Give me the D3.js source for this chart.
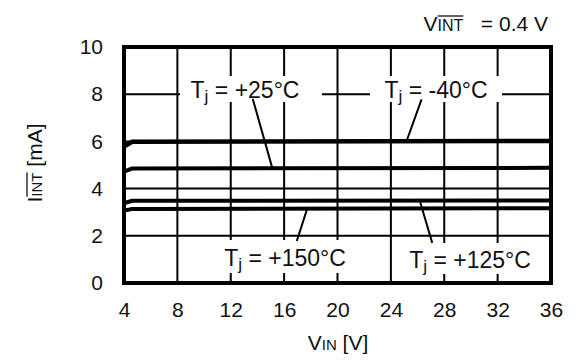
<!DOCTYPE html>
<html><head><meta charset="utf-8">
<script src="https://cdn.jsdelivr.net/npm/d3@7"></script>
<style>
body{margin:0;background:#fff;}
text{font-family:"Liberation Sans",Arial,sans-serif;fill:#111;}
</style></head>
<body><svg id="c" width="578" height="361"></svg>
<script>
// Data
const vin = [4, 4.6, 36];
const tm40 = [5.78, 5.98, 6.02];
const t25  = [4.72, 4.85, 4.88];
const t125 = [3.38, 3.48, 3.50];
const t150 = [3.06, 3.14, 3.17];
const seriesNames = ["Tj = -40°C", "Tj = +25°C", "Tj = +125°C", "Tj = +150°C"];
const xTicks = [4, 8, 12, 16, 20, 24, 28, 32, 36];
const yTicks = [0, 2, 4, 6, 8, 10];

const svg = d3.select("#c");
const L = 124, R = 551, T = 47, B = 283;
const x = d3.scaleLinear().domain([4, 36]).range([L, R]);
const y = d3.scaleLinear().domain([0, 10]).range([B, T]);

// grid
const g = svg.append("g");
g.selectAll(".vg").data(xTicks).enter().append("line")
  .attr("x1", d => x(d)).attr("x2", d => x(d)).attr("y1", T).attr("y2", B)
  .attr("stroke", "#000").attr("stroke-width", 2);
g.selectAll(".hg").data(yTicks).enter().append("line")
  .attr("y1", d => y(d)).attr("y2", d => y(d)).attr("x1", L).attr("x2", R)
  .attr("stroke", "#000").attr("stroke-width", 2);

// axes tick labels via d3 axis
const xAxis = svg.append("g").attr("transform", `translate(0,${B})`)
  .call(d3.axisBottom(x).tickValues(xTicks).tickSize(0).tickPadding(19));
xAxis.select(".domain").remove();
xAxis.selectAll("text").style("font-size", "21px").attr("fill", "#111");
const yAxis = svg.append("g").attr("transform", `translate(${L},0)`)
  .call(d3.axisLeft(y).tickValues(yTicks).tickSize(0).tickPadding(21));
yAxis.select(".domain").remove();
yAxis.selectAll("text").style("font-size", "21px").attr("fill", "#111");

// labels with white boxes
const labels = [
  {name: seriesNames[1], cx: 245, base: 98, box: [180, 76, 322, 102], ptr: [[13.65, 7.8], [15.1, 4.9]]},
  {name: seriesNames[0], cx: 436, base: 98, box: [370, 76, 502, 102], ptr: [[26.3, 7.78], [25.2, 6.05]]},
  {name: seriesNames[3], cx: 285, base: 266, box: [214, 240, 356, 273], ptr: [[16.95, 1.78], [17.7, 3.1]]},
  {name: seriesNames[2], cx: 470, base: 268, box: [398, 243, 542, 274], ptr: [[26.2, 3.42], [27.1, 1.7]]}
];
function subText(sel, name, size) {
  const rest = name.slice(2);
  sel.append("tspan").text("T");
  sel.append("tspan").text("j").style("font-size", (size * 0.75) + "px").attr("dy", 4);
  sel.append("tspan").text(rest).attr("dy", -4);
}
labels.forEach(l => {
  svg.append("rect").attr("x", l.box[0]).attr("y", l.box[1])
    .attr("width", l.box[2] - l.box[0]).attr("height", l.box[3] - l.box[1]).attr("fill", "#fff");
  const t = svg.append("text").attr("x", l.cx).attr("y", l.base)
    .attr("text-anchor", "middle").style("font-size", "23px");
  subText(t, l.name, 23);
  svg.append("line")
    .attr("x1", x(l.ptr[0][0])).attr("y1", y(l.ptr[0][1]))
    .attr("x2", x(l.ptr[1][0])).attr("y2", y(l.ptr[1][1]))
    .attr("stroke", "#000").attr("stroke-width", 2);
});

// curves
const line = d3.line().x(d => x(d[0])).y(d => y(d[1]));
[tm40, t25, t125, t150].forEach((s, i) => {
  svg.append("path").datum(vin.map((v, j) => [v, s[j]]))
    .attr("d", line).attr("fill", "none").attr("stroke", "#000")
    .attr("stroke-width", i === 0 ? 4.5 : 4);
});

// frame
svg.append("rect").attr("x", L).attr("y", T).attr("width", R - L).attr("height", B - T)
  .attr("fill", "none").attr("stroke", "#000").attr("stroke-width", 4);

// top annotation V_INT = 0.4 V
const ann = svg.append("text").attr("x", 548).attr("y", 31).attr("text-anchor", "end")
  .style("font-size", "21px").style("white-space", "pre");
ann.append("tspan").text("V");
ann.append("tspan").text("INT").style("font-size", "16px");
ann.append("tspan").text("   = 0.4 V");
{
  const n = ann.node();
  const s = n.getStartPositionOfChar(1), e = n.getEndPositionOfChar(3);
  svg.append("line").attr("x1", s.x).attr("x2", e.x).attr("y1", 16).attr("y2", 16)
    .attr("stroke", "#111").attr("stroke-width", 1.3);
}

// x label
const xl = svg.append("text").attr("x", 338).attr("y", 350).attr("text-anchor", "middle").style("font-size", "21px");
xl.append("tspan").text("V");
xl.append("tspan").text("IN").style("font-size", "15px");
xl.append("tspan").text(" [V]");

// y label
const yl = svg.append("text").attr("transform", "translate(42,163) rotate(-90)")
  .attr("text-anchor", "middle").style("font-size", "21px");
yl.append("tspan").text("I");
yl.append("tspan").text("INT").style("font-size", "15px");
yl.append("tspan").text(" [mA]");
{
  const n = yl.node();
  const s = n.getStartPositionOfChar(1), e = n.getEndPositionOfChar(3);
  svg.append("line").attr("transform", "translate(42,163) rotate(-90)")
    .attr("x1", s.x).attr("x2", e.x).attr("y1", -15).attr("y2", -15)
    .attr("stroke", "#111").attr("stroke-width", 1.3);
}
</script></body></html>
